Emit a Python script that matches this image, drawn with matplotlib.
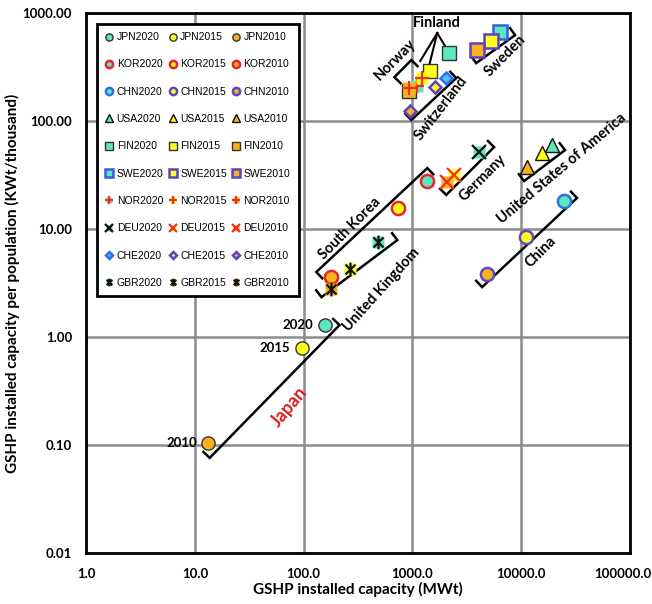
import numpy as np
import matplotlib
matplotlib.use('Agg')
import matplotlib.pyplot as plt
import matplotlib.transforms as mtransforms
from matplotlib.path import Path
from matplotlib.ticker import FixedLocator, FormatStrFormatter

# data: GSHP capacity (MWt) and capacity per population (kWt/thousand)
countries = ['JPN', 'KOR', 'CHN', 'USA', 'FIN', 'SWE', 'NOR', 'DEU', 'CHE', 'GBR']
years = ['2020', '2015', '2010']
capacity = {
    'JPN': [156, 96, 13.2],
    'KOR': [1370, 745, 177],
    'CHN': [24800, 11100, 4880],
    'USA': [19200, 15600, 11350],
    'FIN': [2185, 1463, 938],
    'SWE': [6420, 5300, 3950],
    'NOR': [1112, 1236, 938],
    'DEU': [4120, 2430, 2094],
    'CHE': [2050, 1626, 956],
    'GBR': [488, 270, 177],
}
per_pop = {
    'JPN': [1.29, 0.79, 0.105],
    'KOR': [27.8, 15.6, 3.6],
    'CHN': [18.2, 8.4, 3.83],
    'USA': [60, 50.6, 37.5],
    'FIN': [426, 290, 190],
    'SWE': [667, 550, 454],
    'NOR': [211, 250, 202],
    'DEU': [51.6, 31.6, 27.2],
    'CHE': [250, 206, 124],
    'GBR': [7.6, 4.26, 2.78],
}

# brackets (data coords of the two ends, side of the end ticks)
brackets = {
    'Japan': [(13.7, 0.076), (214, 1.29), 1],
    'South Korea': [(131, 4.0), (1374, 36.7), -1],
    'United Kingdom': [(146, 2.34), (728, 7.9), 1],
    'Germany': [(2051, 20.7), (5649, 57.4), 1],
    'United States of America': [(10660, 27.8), (25350, 53.8), 1],
    'China': [(4385, 2.9), (32660, 19.4), 1],
    'Switzerland': [(979, 102), (2535, 250), 1],
    'Sweden': [(3864, 344), (8810, 625), 1],
    'Norway': [(684, 255), (979, 367), -1],
}
labels = {
    'Japan': (74, 0.225, 50),
    'South Korea': (264, 10.2, 45),
    'United Kingdom': (520, 2.72, 48),
    'Germany': (4385, 29.6, 45),
    'United States of America': (23800, 36.7, 40),
    'China': (15250, 6.1, 45),
    'Switzerland': (1845, 132, 52),
    'Sweden': (7130, 400, 45),
    'Norway': (698, 367, 45),
    'Finland': (1695, 807, 0),
}
finland_apex = (1694, 653)
finland_ends = [(2051, 474), (1432, 330), (1183, 360)]

TEAL = '#5EE6BE'
YEL = '#FFFF1A'
ORG = '#F9B21E'
fills = [TEAL, YEL, ORG]

asterisk = Path([(0, -1), (0, 1), (-0.72, -0.72), (0.72, 0.72), (-0.72, 0.72), (0.72, -0.72)],
                [Path.MOVETO, Path.LINETO, Path.MOVETO, Path.LINETO, Path.MOVETO, Path.LINETO])

# marker, edge colours per year, whether symbol sits on a filled square
style = {
    'JPN': ('o', ['#333333'] * 3, False),
    'KOR': ('o', ['#E8262A'] * 3, False),
    'CHN': ('o', ['#2E6FE8', '#5B47C8', '#5B47C8'], False),
    'USA': ('^', ['#111111'] * 3, False),
    'FIN': ('s', ['#333333'] * 3, False),
    'SWE': ('s', ['#2F5FE0', '#6040C0', '#6040C0'], False),
    'NOR': ('+', ['#F03020'] * 3, True),
    'DEU': ('x', ['#111111', '#F03020', '#F03020'], True),
    'CHE': ('D', ['#2E6FE8', '#6040C0', '#6040C0'], False),
    'GBR': (asterisk, ['#111111'] * 3, True),
}
ms_map = {'o': 9.5, '^': 10.5, 's': 9.5, 'D': 6.5}

plt.rcParams['font.family'] = 'Lato'
fig = plt.figure(figsize=(6.52, 6.04), dpi=100)
ax = fig.add_axes([0.132, 0.0844, 0.834, 0.894])
ax.set_xscale('log')
ax.set_yscale('log')
ax.set_xlim(1, 100000)
ax.set_ylim(0.01, 1000)

handles = {}
for c in countries:
    mk, edges, on_square = style[c]
    for j, yr in enumerate(years):
        x = capacity[c][j]
        y = per_pop[c][j]
        if c == 'CHE' and j == 0:
            fc = '#55BFF5'
        else:
            fc = fills[j]
        if on_square:
            bg, = ax.plot(x, y, 's', ms=9, mfc=fc, mec='none', zorder=4)
            sym, = ax.plot(x, y, marker=mk, ms=10, mew=1.6, color=edges[j], ls='none', zorder=4)
            h = (bg, sym)
        else:
            h, = ax.plot(x, y, marker=mk, ms=ms_map[mk], mfc=fc, mec=edges[j],
                         mew=1.8 if c in ('KOR', 'CHN', 'SWE', 'CHE') else 1.0, ls='none', zorder=4)
        handles[c + yr] = h

# brackets
for name, (p0, p1, side) in brackets.items():
    a = np.log10(p0)
    b = np.log10(p1)
    d = (b - a) / np.hypot(*(b - a))
    n = np.array([-d[1], d[0]]) * side * 0.08
    pts = np.array([a + n, a, b, b + n])
    ax.plot(10 ** pts[:, 0], 10 ** pts[:, 1], color='black', lw=1.8, zorder=3,
            solid_joinstyle='miter')

for e in finland_ends:
    ax.plot([finland_apex[0], e[0]], [finland_apex[1], e[1]], color='black', lw=1.5, zorder=3)

for name, (x, y, rot) in labels.items():
    if name == 'Japan':
        ax.text(x, y, name, rotation=rot, ha='center', va='center', fontsize=13,
                fontweight='bold', color='#D62020', rotation_mode='anchor', zorder=5)
    else:
        ax.text(x, y, name, rotation=rot, ha='center', va='center', fontsize=10.5,
                fontweight='bold', color='black', rotation_mode='anchor', zorder=5)

for j, yr in enumerate(years):
    ax.annotate(yr, (capacity['JPN'][j], per_pop['JPN'][j]), xytext=(-8, 0),
                textcoords='offset points', ha='right', va='center',
                fontsize=9.5, fontweight='bold')

# grid and axes styling
ax.xaxis.set_major_locator(FixedLocator([1, 10, 100, 1000, 10000, 100000]))
ax.yaxis.set_major_locator(FixedLocator([0.01, 0.1, 1, 10, 100, 1000]))
ax.xaxis.set_minor_locator(FixedLocator([]))
ax.yaxis.set_minor_locator(FixedLocator([]))
ax.xaxis.set_major_formatter(FormatStrFormatter('%.1f'))
ax.yaxis.set_major_formatter(FormatStrFormatter('%.2f'))
ax.grid(True, color='#8C8C8C', lw=1.8)
ax.set_axisbelow(True)
ax.tick_params(length=0, labelsize=9.5)
ax.tick_params(axis='y', pad=10)
ax.tick_params(axis='x', pad=11)
for lab in ax.get_xticklabels() + ax.get_yticklabels():
    lab.set_fontweight('bold')
# keep the last x label inside the figure
last = ax.get_xticklabels()[-1]
last.set_transform(last.get_transform() + mtransforms.ScaledTranslation(-5 / 72, 0, fig.dpi_scale_trans))
for s in ax.spines.values():
    s.set_linewidth(2)
    s.set_color('black')

ax.set_xlabel('GSHP installed capacity (MWt)', fontsize=11, fontweight='bold', labelpad=1)
ax.set_ylabel('GSHP installed capacity per population (KWt/thousand)', fontsize=11,
              fontweight='bold', labelpad=2)

order = [c + yr for yr in years for c in countries]
leg = ax.legend([handles[k] for k in order], order, ncol=3, loc='upper left',
                bbox_to_anchor=(0.02, 0.98), borderaxespad=0, fancybox=False,
                edgecolor='black', framealpha=1, markerscale=0.55, handlelength=0.8,
                handletextpad=0.3, columnspacing=0.5, labelspacing=1.66,
                prop={'family': 'Liberation Sans', 'size': 7.5}, borderpad=0.8)
leg.get_frame().set_linewidth(2)
leg.set_zorder(6)

fig.savefig('out.png', dpi=100)
